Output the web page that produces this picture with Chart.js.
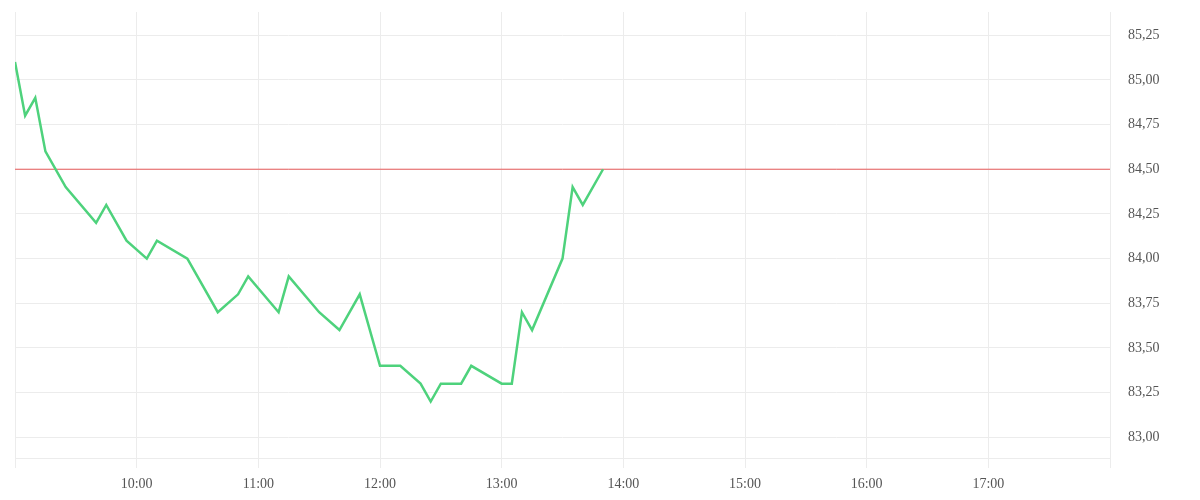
<!DOCTYPE html>
<html>
<head>
<meta charset="utf-8">
<script src="https://cdn.jsdelivr.net/npm/chart.js@4.4.1/dist/chart.umd.min.js"></script>
<style>
  body { margin: 0; background: #fff; }
  #box { width: 1200px; height: 500px; }
</style>
</head>
<body>
<div id="box"><canvas id="intradayChart"></canvas></div>
<script>
// intraday prices
const times = ['09:00', '09:05', '09:10', '09:15', '09:25', '09:40', '09:45', '09:55',
  '10:05', '10:10', '10:25', '10:40', '10:50', '10:55', '11:10', '11:15', '11:30',
  '11:40', '11:50', '12:00', '12:10', '12:20', '12:25', '12:30', '12:40', '12:45',
  '13:00', '13:05', '13:10', '13:15', '13:30', '13:35', '13:40', '13:50'];
const prices = [85.10, 84.80, 84.90, 84.60, 84.40, 84.20, 84.30, 84.10,
  84.00, 84.10, 84.00, 83.70, 83.80, 83.90, 83.70, 83.90, 83.70,
  83.60, 83.80, 83.40, 83.40, 83.30, 83.20, 83.30, 83.30, 83.40,
  83.30, 83.30, 83.70, 83.60, 84.00, 84.40, 84.30, 84.50];
const prevClose = 84.50;
const sessionStart = '09:00';
const sessionEnd = '18:00';
const yTicks = [83.00, 83.25, 83.50, 83.75, 84.00, 84.25, 84.50, 84.75, 85.00, 85.25];

// "HH:MM" -> minutes since midnight
function toMin(t) {
  const p = t.split(':');
  return +p[0] * 60 + +p[1];
}
function fmtTime(m) {
  const h = Math.floor(m / 60);
  const mm = m % 60;
  return (h < 10 ? '0' + h : h) + ':' + (mm < 10 ? '0' + mm : mm);
}

const gridColor = '#ececec';

const data = {
  datasets: [{
    label: 'price',
    data: times.map((t, i) => ({ x: toMin(t), y: prices[i] })),
    borderColor: '#4ed27c',
    borderWidth: 2.5,
    pointRadius: 0,
    tension: 0,
    order: 1
  }, {
    label: 'previous close',
    data: [{ x: toMin(sessionStart), y: prevClose }, { x: toMin(sessionEnd), y: prevClose }],
    borderColor: '#e85b5b',
    borderWidth: 1,
    pointRadius: 0,
    order: 2
  }]
};

const config = {
  type: 'line',
  data,
  options: {
    responsive: true,
    maintainAspectRatio: false,
    animation: false,
    layout: { padding: { left: 15, top: 12, right: 0, bottom: 0 } },
    plugins: {
      legend: { display: false },
      tooltip: { enabled: false }
    },
    scales: {
      x: {
        type: 'linear',
        min: toMin(sessionStart),
        max: toMin(sessionEnd),
        grid: { color: gridColor, tickLength: 10 },
        border: { color: gridColor },
        ticks: {
          stepSize: 60,
          autoSkip: false,
          maxRotation: 0,
          padding: 8,
          color: '#555',
          font: { family: '"Liberation Serif", serif', size: 14 },
          callback: function(value) {
            if (value === toMin(sessionStart) || value === toMin(sessionEnd)) {
              return '';
            }
            return fmtTime(value);
          }
        },
        afterFit: function(scale) {
          scale.height = 42;
          scale.paddingLeft = 0;
          scale.paddingRight = 0;
        }
      },
      y: {
        position: 'right',
        min: 82.884,
        max: 85.38,
        grid: { color: gridColor, drawTicks: false },
        border: { display: false },
        afterBuildTicks: function(scale) {
          scale.ticks = yTicks.map(v => ({ value: v }));
        },
        ticks: {
          padding: 18,
          color: '#555',
          font: { family: '"Liberation Serif", serif', size: 14 },
          callback: function(value) {
            return value.toFixed(2).replace('.', ',');
          }
        },
        afterFit: function(scale) {
          scale.width = 90;
          scale.paddingTop = 0;
          scale.paddingBottom = 0;
        }
      }
    }
  }
};

const myChart = new Chart(
  document.getElementById('intradayChart'),
  config
);
</script>
</body>
</html>
